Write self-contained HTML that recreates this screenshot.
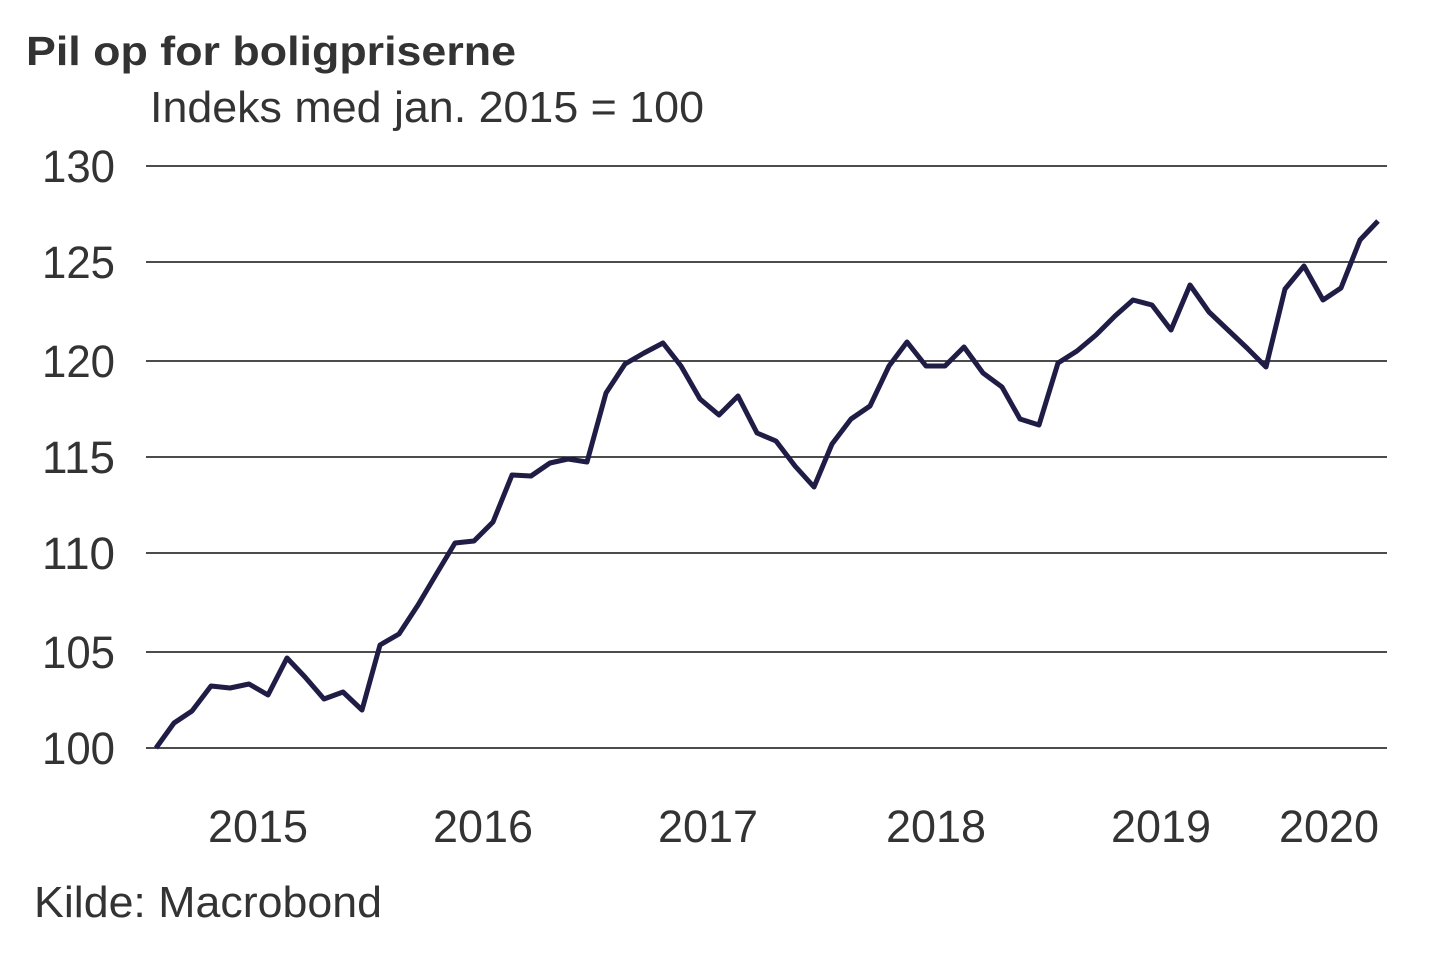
<!DOCTYPE html>
<html><head><meta charset="utf-8"><style>html,body{margin:0;padding:0;background:#fff}svg{display:block}</style></head>
<body>
<svg width="1440" height="960" viewBox="0 0 1440 960" xmlns="http://www.w3.org/2000/svg" font-family="Liberation Sans, Arial, sans-serif">
<rect width="1440" height="960" fill="#fff"/>
<text x="26" y="65" font-size="41" font-weight="bold" fill="#333" textLength="490" lengthAdjust="spacingAndGlyphs">Pil op for boligpriserne</text>
<text x="150" y="122" font-size="44" fill="#333" textLength="554" lengthAdjust="spacingAndGlyphs">Indeks med jan. 2015 = 100</text>
<g stroke="#111" stroke-width="1.5">
<line x1="146" x2="1387" y1="166" y2="166"/><line x1="146" x2="1387" y1="262" y2="262"/>
<line x1="146" x2="1387" y1="361" y2="361"/><line x1="146" x2="1387" y1="457" y2="457"/>
<line x1="146" x2="1387" y1="553" y2="553"/><line x1="146" x2="1387" y1="652" y2="652"/>
<line x1="146" x2="1387" y1="748" y2="748"/>
</g>
<g font-size="45" fill="#333">
<text x="42" y="182" textLength="73" lengthAdjust="spacingAndGlyphs">130</text>
<text x="42" y="278" textLength="73" lengthAdjust="spacingAndGlyphs">125</text>
<text x="42" y="377" textLength="73" lengthAdjust="spacingAndGlyphs">120</text>
<text x="42" y="473" textLength="73" lengthAdjust="spacingAndGlyphs">115</text>
<text x="42" y="569" textLength="73" lengthAdjust="spacingAndGlyphs">110</text>
<text x="42" y="668" textLength="73" lengthAdjust="spacingAndGlyphs">105</text>
<text x="42" y="764" textLength="73" lengthAdjust="spacingAndGlyphs">100</text>
</g>
<g font-size="45" fill="#333">
<text x="208" y="842" textLength="100" lengthAdjust="spacingAndGlyphs">2015</text>
<text x="433" y="842" textLength="100" lengthAdjust="spacingAndGlyphs">2016</text>
<text x="658" y="842" textLength="100" lengthAdjust="spacingAndGlyphs">2017</text>
<text x="886" y="842" textLength="100" lengthAdjust="spacingAndGlyphs">2018</text>
<text x="1111" y="842" textLength="100" lengthAdjust="spacingAndGlyphs">2019</text>
<text x="1279" y="842" textLength="100" lengthAdjust="spacingAndGlyphs">2020</text>
</g>
<text x="34" y="917" font-size="44" fill="#333" textLength="348" lengthAdjust="spacingAndGlyphs">Kilde: Macrobond</text>
<polyline fill="none" stroke="#1f1d45" stroke-width="5" stroke-linejoin="round" points="156,748 174,723 192,711 211,686 230,688 249,684 268,695 287,658 305,677 324,699 343,692 362,710 380,645 399,634 418,605 437,573 455,543 474,541 493,522 512,475 531,476 550,463 568,459 587,462 606,393 625,364 644,353 663,343 681,366 700,399 719,415 738,396 757,433 776,441 795,466 814,487 832,444 851,419 870,406 889,366 907,342 926,366 945,366 964,347 983,373 1002,387 1020,419 1039,425 1058,363 1077,351 1096,335 1115,316 1133,300 1152,305 1171,330 1190,285 1209,312 1228,330 1247,348 1266,367 1285,289 1304,266 1323,300 1341,288 1360,240 1378,221"/>
</svg>
</body></html>
